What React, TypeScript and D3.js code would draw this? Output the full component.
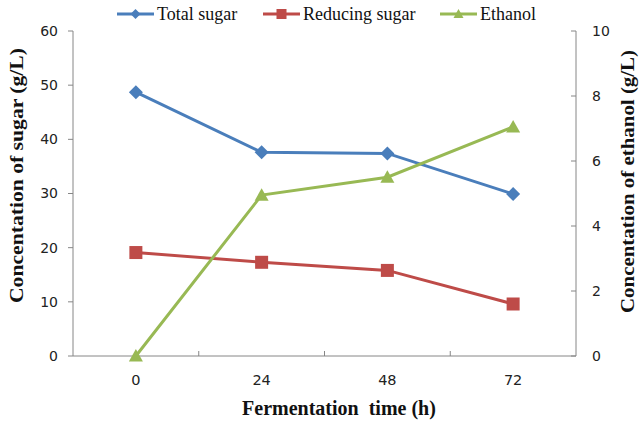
import React from "react";
import * as d3 from "d3";

const categories = ["0", "24", "48", "72"];
const totalSugar = [48.7, 37.6, 37.4, 29.9];
const reducingSugar = [19.1, 17.3, 15.8, 9.6];
const ethanol = [0, 4.95, 5.5, 7.05];
const leftTicks = [0, 10, 20, 30, 40, 50, 60];
const rightTicks = [0, 2, 4, 6, 8, 10];
const seriesNames = ["Total sugar", "Reducing sugar", "Ethanol"];

const W = 644, H = 421;
const L = 73, R = 576, T = 31, B = 356;
const BLUE = "#4a7ebb", RED = "#be4b48", GREEN = "#98b954";
const AXIS = "#868686";

export default function App() {
  const x = d3.scaleBand<string>().domain(categories).range([L, R]).padding(0);
  const yL = d3.scaleLinear().domain([0, 60]).range([B, T]);
  const yR = d3.scaleLinear().domain([0, 10]).range([B, T]);
  const cx = (c: string) => (x(c) as number) + x.bandwidth() / 2;
  const line = d3.line<[number, number]>().x((d) => d[0]).y((d) => d[1]);

  const ptsTotal: [number, number][] = categories.map((c, i) => [cx(c), yL(totalSugar[i])]);
  const ptsRed: [number, number][] = categories.map((c, i) => [cx(c), yL(reducingSugar[i])]);
  const ptsEth: [number, number][] = categories.map((c, i) => [cx(c), yR(ethanol[i])]);

  const diamond = (px: number, py: number, s = 7) =>
    `M${px},${py - s}L${px + s},${py}L${px},${py + s}L${px - s},${py}Z`;
  const triangle = (px: number, py: number, s = 7) =>
    `M${px},${py - s}L${px + s},${py + s * 0.8}L${px - s},${py + s * 0.8}Z`;

  const serif = "'Liberation Serif', 'Times New Roman', serif";
  const sans = "'DejaVu Sans', Verdana, sans-serif";

  const legend = [
    { name: seriesNames[0], color: BLUE, x0: 117, kind: "d" },
    { name: seriesNames[1], color: RED, x0: 263, kind: "s" },
    { name: seriesNames[2], color: GREEN, x0: 440, kind: "t" },
  ];
  const ly = 14;

  return (
    <svg width={W} height={H} style={{ position: "absolute", left: 0, top: 0, background: "#fff" }}>
      {/* axes */}
      <line x1={L} y1={T} x2={L} y2={B} stroke={AXIS} strokeWidth={1} />
      <line x1={R} y1={T} x2={R} y2={B} stroke={AXIS} strokeWidth={1} />
      <line x1={L} y1={B} x2={R} y2={B} stroke={AXIS} strokeWidth={1} />
      {leftTicks.map((t) => (
        <g key={"l" + t}>
          <line x1={L - 5} x2={L} y1={yL(t)} y2={yL(t)} stroke={AXIS} />
          <text x={L - 15} y={yL(t)} dy="0.35em" textAnchor="end" fontFamily={sans} fontSize={14} fill="#222">
            {t}
          </text>
        </g>
      ))}
      {rightTicks.map((t) => (
        <g key={"r" + t}>
          <line x1={R - 5} x2={R} y1={yR(t)} y2={yR(t)} stroke={AXIS} />
          <text x={R + 16} y={yR(t)} dy="0.35em" textAnchor="start" fontFamily={sans} fontSize={14} fill="#222">
            {t}
          </text>
        </g>
      ))}
      {categories.slice(1).map((c) => (
        <line key={"xt" + c} x1={x(c) as number} x2={x(c) as number} y1={B - 5} y2={B} stroke={AXIS} />
      ))}
      {categories.map((c) => (
        <text key={"xl" + c} x={cx(c)} y={B + 29} textAnchor="middle" fontFamily={sans} fontSize={14.5} fill="#222">
          {c}
        </text>
      ))}

      {/* titles */}
      <text
        transform={`translate(23,175.5) rotate(-90)`}
        textAnchor="middle"
        fontFamily={serif}
        fontWeight="bold"
        fontSize={19}
        fill="#111"
        textLength={255}
        lengthAdjust="spacingAndGlyphs"
      >
        Concentation of sugar (g/L)
      </text>
      <text
        transform={`translate(634,181.5) rotate(-90)`}
        textAnchor="middle"
        fontFamily={serif}
        fontWeight="bold"
        fontSize={19}
        fill="#111"
        textLength={263}
        lengthAdjust="spacingAndGlyphs"
      >
        Concentation of ethanol (g/L)
      </text>
      <text x={339} y={415} textAnchor="middle" fontFamily={serif} fontWeight="bold" fontSize={20} fill="#111" style={{ whiteSpace: "pre" }}>
        {"Fermentation  time (h)"}
      </text>

      {/* series */}
      <path d={line(ptsTotal) as string} fill="none" stroke={BLUE} strokeWidth={3} />
      <path d={line(ptsRed) as string} fill="none" stroke={RED} strokeWidth={3} />
      <path d={line(ptsEth) as string} fill="none" stroke={GREEN} strokeWidth={3} />
      {ptsTotal.map((p, i) => (
        <path key={"dm" + i} d={diamond(p[0], p[1])} fill={BLUE} />
      ))}
      {ptsRed.map((p, i) => (
        <rect key={"sq" + i} x={p[0] - 6.5} y={p[1] - 6.5} width={13} height={13} fill={RED} />
      ))}
      {ptsEth.map((p, i) => (
        <path key={"tr" + i} d={triangle(p[0], p[1])} fill={GREEN} />
      ))}

      {/* legend */}
      {legend.map((l) => (
        <g key={l.name}>
          <line x1={l.x0} x2={l.x0 + 37} y1={ly} y2={ly} stroke={l.color} strokeWidth={3} />
          {l.kind === "d" && <path d={diamond(l.x0 + 18.5, ly, 5)} fill={l.color} />}
          {l.kind === "s" && <rect x={l.x0 + 13.5} y={ly - 5} width={10} height={10} fill={l.color} />}
          {l.kind === "t" && <path d={triangle(l.x0 + 18.5, ly, 5)} fill={l.color} />}
          <text x={l.x0 + 40} y={ly} dy="0.35em" fontFamily={serif} fontSize={18} fill="#111">
            {l.name}
          </text>
        </g>
      ))}
    </svg>
  );
}
